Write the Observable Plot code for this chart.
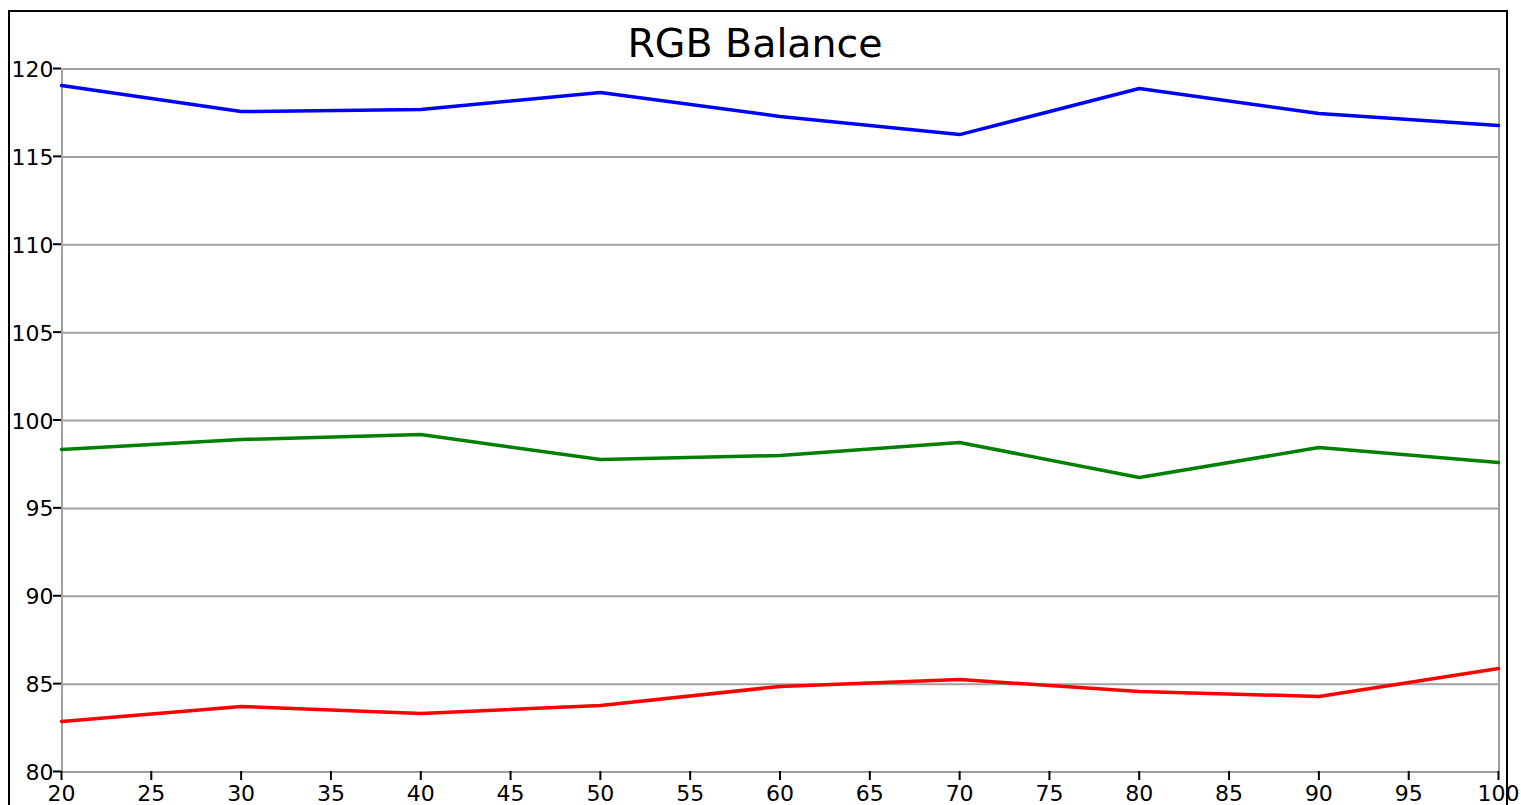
<!DOCTYPE html>
<html>
<head>
<meta charset="utf-8">
<script src="https://cdn.jsdelivr.net/npm/d3@7"></script>
<script src="https://cdn.jsdelivr.net/npm/@observablehq/plot@0.6"></script>
<style>
  html, body { margin: 0; padding: 0; background: #fff; }
  #wrap { position: relative; width: 1521px; height: 805px; overflow: hidden; font-family: "DejaVu Sans", Verdana, sans-serif; }
  #frame { position: absolute; left: 8px; top: 10px; width: 1500px; height: 830px; border: 2px solid #000; box-sizing: border-box; }
  #title { position: absolute; left: 0; width: 1510px; top: 18px; text-align: center; font-size: 39.5px; color: #000; line-height: 50px; }
  #chart { position: absolute; left: 0; top: 0; }
</style>
</head>
<body>
<div id="wrap">
  <div id="frame"></div>
  <div id="title">RGB Balance</div>
  <div id="chart"></div>
</div>
<script>
const xs = [20, 30, 40, 50, 60, 70, 80, 90, 100];
const blue  = [119.03, 117.55, 117.67, 118.63, 117.27, 116.24, 118.86, 117.44, 116.76];
const green = [98.32, 98.89, 99.17, 97.75, 97.98, 98.72, 96.73, 98.43, 97.58];
const red   = [82.85, 83.70, 83.30, 83.76, 84.84, 85.23, 84.55, 84.27, 85.86];
const xTicks = [20, 25, 30, 35, 40, 45, 50, 55, 60, 65, 70, 75, 80, 85, 90, 95, 100];
const yTicks = [80, 85, 90, 95, 100, 105, 110, 115, 120];

const seriesList = [
  {name: "Red", values: red, color: "#ff0000"},
  {name: "Green", values: green, color: "#008000"},
  {name: "Blue", values: blue, color: "#0000ff"}
];
const data = seriesList.flatMap(s => xs.map((x, i) => ({x, y: s.values[i], series: s.name})));

const chart = Plot.plot({
  width: 1521,
  height: 805,
  marginLeft: 61,
  marginRight: 23,
  marginTop: 68,
  marginBottom: 34,
  style: {background: "transparent", fontFamily: "'DejaVu Sans', Verdana, sans-serif", fontSize: "22px", color: "#000", overflow: "visible"},
  x: {domain: [20, 100]},
  y: {domain: [80, 120]},
  color: {domain: seriesList.map(s => s.name), range: seriesList.map(s => s.color)},
  marks: [
    Plot.ruleY(yTicks, {stroke: "#a0a0a0", strokeWidth: 2, dy: 0.5}),
    Plot.ruleX([20, 100], {stroke: "#a0a0a0", strokeWidth: 2, dx: 0.5}),
    Plot.axisY(yTicks, {tickSize: 8, tickPadding: 0, stroke: "#000", strokeWidth: 2, fill: "none", label: null}),
    Plot.axisY(yTicks, {tickSize: 0, tickPadding: 8, fontSize: 22, dy: 1.5, label: null}),
    Plot.axisX(xTicks, {tickSize: 9, tickPadding: 5, stroke: "#000", strokeWidth: 2, fontSize: 22, label: null}),
    Plot.line(data, {x: "x", y: "y", z: "series", stroke: "series", strokeWidth: 3.5, strokeLinejoin: "miter"})
  ]
});
document.getElementById("chart").appendChild(chart);
</script>
</body>
</html>
